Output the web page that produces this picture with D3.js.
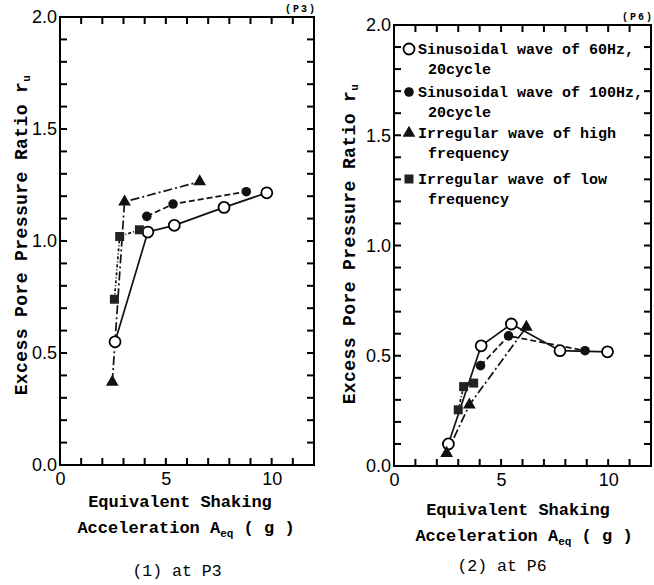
<!DOCTYPE html>
<html>
<head>
<meta charset="utf-8">
<script src="https://cdn.jsdelivr.net/npm/d3@7"></script>
<style>
  body { margin: 0; background: #fff; }
  svg { display: block; }
  .tick text { font-family: 'Liberation Sans', sans-serif; font-size: 18px; fill: #000; }
  .mono { font-family: 'Liberation Mono', monospace; font-weight: bold; fill: #000; }
</style>
</head>
<body>
<svg id="chart" width="654" height="585"></svg>
<script>
// values: [A_eq (g), r_u]
const p3Sin60 = [[2.6, 0.55], [4.15, 1.04], [5.4, 1.07], [7.75, 1.15], [9.77, 1.215]];
const p3Sin100 = [[4.1, 1.11], [5.34, 1.165], [8.8, 1.22]];
const p3IrrHigh = [[2.47, 0.37], [3.05, 1.175], [6.6, 1.265]];
const p3IrrLow = [[2.57, 0.74], [2.82, 1.02], [3.75, 1.05]];

const p6Sin60 = [[2.54, 0.1], [4.07, 0.545], [5.48, 0.644], [7.75, 0.523], [9.97, 0.518]];
const p6Sin100 = [[4.04, 0.455], [5.35, 0.59], [8.92, 0.523]];
const p6IrrHigh = [[2.46, 0.058], [3.52, 0.277], [6.18, 0.63]];
const p6IrrLow = [[3.0, 0.255], [3.25, 0.36], [3.72, 0.376]];

const xTickLabels = [0, 5, 10];
const yTickLabels = [0, 0.5, 1.0, 1.5, 2.0];
const xMinor = d3.range(1, 12, 1);
const yMinor = d3.range(1, 20, 1).map(d => d / 10);

const legendLabels = [
  ['Sinusoidal wave of 60Hz,', '20cycle'],
  ['Sinusoidal wave of 100Hz,', '20cycle'],
  ['Irregular wave of high', 'frequency'],
  ['Irregular wave of low', 'frequency'],
];

const seriesStyle = [
  { marker: 'open', dash: null },
  { marker: 'filled', dash: '6,3' },
  { marker: 'triangle', dash: '9,3,2,3' },
  { marker: 'square', dash: '3,2,1,2' },
];

const svg = d3.select('#chart');
const tickLen = 7;
const tickW = 2;

const drawMarker = (g, type, cx, cy) => {
  if (type === 'open') {
    g.append('circle').attr('cx', cx).attr('cy', cy).attr('r', 5.5)
      .attr('fill', '#fff').attr('stroke', '#000').attr('stroke-width', 1.8);
  } else if (type === 'filled') {
    g.append('circle').attr('cx', cx).attr('cy', cy).attr('r', 4.8).attr('fill', '#111');
  } else if (type === 'triangle') {
    g.append('path').attr('d', d3.symbol(d3.symbolTriangle, 70)())
      .attr('transform', `translate(${cx},${cy})`).attr('fill', '#111');
  } else {
    g.append('rect').attr('x', cx - 4.5).attr('y', cy - 4.5)
      .attr('width', 9).attr('height', 9).attr('fill', '#222');
  }
};

const drawPanel = (cfg) => {
  const x = d3.scaleLinear().domain([0, 12]).range([cfg.left, cfg.right]);
  const y = d3.scaleLinear().domain([0, 2]).range([cfg.bottom, cfg.top]);
  const g = svg.append('g');

  g.append('rect')
    .attr('x', cfg.left).attr('y', cfg.top)
    .attr('width', cfg.right - cfg.left).attr('height', cfg.bottom - cfg.top)
    .attr('fill', 'none').attr('stroke', '#000').attr('stroke-width', 2);

  // inward ticks on all four sides, drawn as small filled bars
  const ticks = g.append('g').attr('fill', '#000');
  [cfg.bottom - tickLen, cfg.top].forEach((ty, k) => {
    ticks.selectAll(`.xt${k}`).data(xMinor).join('rect').attr('class', `xt${k}`)
      .attr('x', d => x(d) - tickW / 2).attr('y', ty)
      .attr('width', tickW).attr('height', tickLen);
  });
  [cfg.left, cfg.right - tickLen].forEach((tx, k) => {
    ticks.selectAll(`.yt${k}`).data(yMinor).join('rect').attr('class', `yt${k}`)
      .attr('x', tx).attr('y', d => y(d) - tickW / 2)
      .attr('width', tickLen).attr('height', tickW);
  });

  const xa = g.append('g').attr('transform', `translate(0,${cfg.bottom})`)
    .call(d3.axisBottom(x).tickValues(xTickLabels).tickSize(0).tickPadding(7).tickFormat(d3.format('d')));
  xa.select('.domain').remove();

  const ya = g.append('g').attr('transform', `translate(${cfg.left},0)`)
    .call(d3.axisLeft(y).tickValues(yTickLabels).tickSize(0).tickPadding(3).tickFormat(d3.format('.1f')));
  ya.select('.domain').remove();

  const line = d3.line().x(d => x(d[0])).y(d => y(d[1]));
  cfg.series.forEach((data, i) => {
    g.append('path').datum(data).attr('d', line)
      .attr('fill', 'none').attr('stroke', '#111').attr('stroke-width', 1.7)
      .attr('stroke-dasharray', seriesStyle[i].dash);
  });
  cfg.series.forEach((data, i) => {
    data.forEach(d => drawMarker(g, seriesStyle[i].marker, x(d[0]), y(d[1])));
  });

  g.append('text').attr('class', 'mono').attr('font-size', 10)
    .attr('letter-spacing', 2)
    .attr('x', cfg.right + 3).attr('y', cfg.top - 5).attr('text-anchor', 'end')
    .text(cfg.tag);

  // y title
  const yt = g.append('text').attr('class', 'mono').attr('font-size', 18)
    .attr('letter-spacing', 0.4).attr('text-anchor', 'middle')
    .attr('transform', `translate(${cfg.yTitleX},${cfg.yTitleY}) rotate(-90)`);
  yt.append('tspan').text('Excess Pore Pressure Ratio r');
  yt.append('tspan').attr('font-size', 11).attr('dy', 3).text('u');

  // x title
  g.append('text').attr('class', 'mono').attr('font-size', 17)
    .attr('x', cfg.xTitleX).attr('y', cfg.xTitleY).attr('text-anchor', 'middle')
    .text('Equivalent Shaking');
  const xt = g.append('text').attr('class', 'mono').attr('font-size', 17)
    .attr('x', cfg.xTitleX + 6).attr('y', cfg.xTitleY + 26).attr('text-anchor', 'middle');
  xt.append('tspan').text('Acceleration A');
  xt.append('tspan').attr('font-size', 11).attr('dy', 4).text('eq');
  xt.append('tspan').attr('dy', -4).text(' ( g )');

  g.append('text').attr('class', 'mono').attr('font-size', 16.5).style('font-weight', 'normal')
    .attr('x', cfg.captionX).attr('y', cfg.captionY).attr('text-anchor', 'middle')
    .text(cfg.caption);

  return { x, y, g };
};

drawPanel({
  left: 60, right: 314, top: 17, bottom: 465,
  series: [p3Sin60, p3Sin100, p3IrrHigh, p3IrrLow],
  tag: '(P3)', caption: '(1) at P3',
  yTitleX: 27, yTitleY: 235, xTitleX: 180, xTitleY: 507,
  captionX: 177, captionY: 576,
});

const p6 = drawPanel({
  left: 394, right: 651, top: 25, bottom: 466,
  series: [p6Sin60, p6Sin100, p6IrrHigh, p6IrrLow],
  tag: '(P6)', caption: '(2) at P6',
  yTitleX: 355, yTitleY: 244, xTitleX: 518, xTitleY: 515,
  captionX: 502, captionY: 571,
});

// legend inside the P6 panel
const legendRows = [49, 92, 133, 179];
legendLabels.forEach((lines, i) => {
  const cy = legendRows[i];
  drawMarker(p6.g, seriesStyle[i].marker, 409, cy);
  p6.g.append('text').attr('class', 'mono').attr('font-size', 15)
    .attr('x', 418).attr('y', cy + 5).text(lines[0]);
  p6.g.append('text').attr('class', 'mono').attr('font-size', 15)
    .attr('x', 428).attr('y', cy + 25).text(lines[1]);
});
</script>
</body>
</html>
